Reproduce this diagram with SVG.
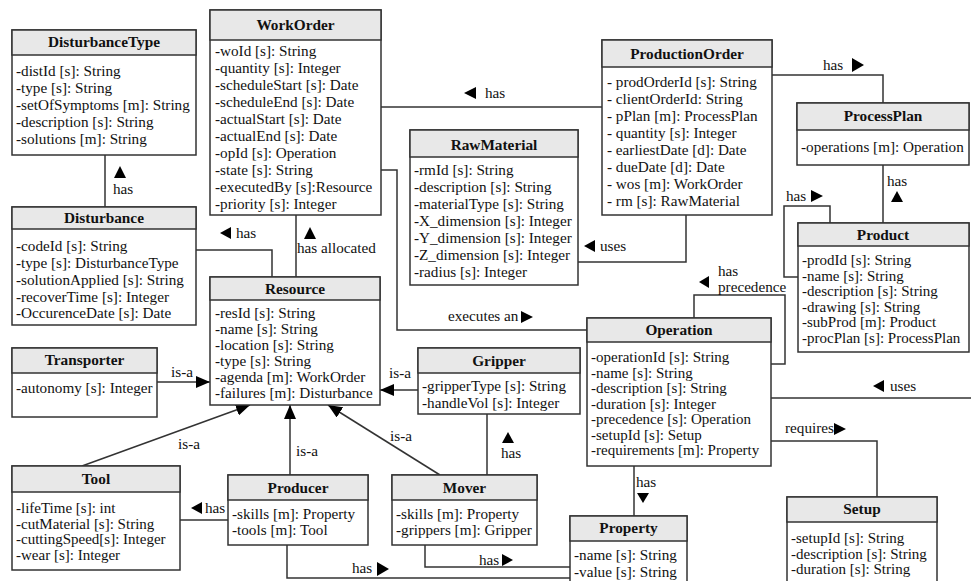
<svg xmlns="http://www.w3.org/2000/svg" width="971" height="581" viewBox="0 0 971 581">
<style>
.box{fill:#fff;stroke:#333;stroke-width:1.5}
.hdr{fill:#e8e8e8;stroke:#333;stroke-width:1.5}
.t{font-family:"Liberation Serif","Times New Roman",serif;font-size:15.2px;fill:#111}
.s{font-size:15px}
.title{font-family:"Liberation Serif","Times New Roman",serif;font-size:15.3px;font-weight:bold;text-anchor:middle;fill:#111}
.ln{stroke:#333;stroke-width:1.5;fill:none}
.tri{fill:#000}
</style>
<defs>
<marker id="isa" viewBox="0 0 14 12" refX="14" refY="6" markerWidth="14" markerHeight="12" markerUnits="userSpaceOnUse" orient="auto">
<path d="M0,0 L14,6 L0,12 Z" fill="#000"/>
</marker>
</defs>
<g id="connectors">
<path class="ln" d="M105,155 V207"/>
<polygon class="tri" points="114,178 126,178 120,166"/>
<text class="t" x="113" y="194">has</text>
<path class="ln" d="M196,250 H272 V277"/>
<polygon class="tri" points="220,233 231,227 231,239"/>
<text class="t" x="236" y="238">has</text>
<path class="ln" d="M296,215 V277"/>
<polygon class="tri" points="304,239 316,239 310,227"/>
<text class="t" x="297" y="253">has allocated</text>
<path class="ln" d="M381,107 H602"/>
<polygon class="tri" points="464,93 476,87 476,99"/>
<text class="t" x="485" y="98">has</text>
<path class="ln" d="M381,170 H397 V330 H587"/>
<text class="t" x="448" y="321">executes an</text>
<polygon class="tri" points="521,311 521,323 533,317"/>
<path class="ln" d="M578,262 H686 V215"/>
<polygon class="tri" points="584,246 595,240 595,252"/>
<text class="t" x="600" y="251">uses</text>
<path class="ln" d="M772,75 H883 V103"/>
<text class="t" x="823" y="70">has</text>
<polygon class="tri" points="852,58 852,72 864,65"/>
<path class="ln" d="M883,165 V223"/>
<text class="t" x="887" y="186">has</text>
<polygon class="tri" points="891,202 903,202 897,191"/>
<path class="ln" d="M830,223 V206 H784 V277 H798"/>
<text class="t" x="786" y="201">has</text>
<polygon class="tri" points="811,190 811,202 823,196"/>
<path class="ln" d="M157,382 H210" marker-end="url(#isa)"/>
<text class="t" x="171" y="377">is-a</text>
<path class="ln" d="M418,390 H380" marker-end="url(#isa)"/>
<text class="t" x="389" y="378">is-a</text>
<path class="ln" d="M82,466 L250,405" marker-end="url(#isa)"/>
<text class="t" x="178" y="449">is-a</text>
<path class="ln" d="M290,475 V405" marker-end="url(#isa)"/>
<text class="t" x="296" y="456">is-a</text>
<path class="ln" d="M440,475 L328,405" marker-end="url(#isa)"/>
<text class="t" x="390" y="441">is-a</text>
<path class="ln" d="M487,475 V414"/>
<polygon class="tri" points="502,443 514,443 508,432"/>
<text class="t" x="501" y="458">has</text>
<path class="ln" d="M228,520 H180"/>
<polygon class="tri" points="191,508 202,502 202,514"/>
<text class="t" x="205" y="513">has</text>
<path class="ln" d="M287,545 V578 H570"/>
<text class="t" x="352" y="573">has</text>
<polygon class="tri" points="377,562 377,576 389,569"/>
<path class="ln" d="M425,545 V567 H570"/>
<text class="t" x="479" y="565">has</text>
<polygon class="tri" points="502,554 502,566 513,560"/>
<path class="ln" d="M694,318 V295 H785 V364 H771"/>
<polygon class="tri" points="699,282 709,276 709,288"/>
<text class="t" x="718" y="276">has</text>
<text class="t" x="718" y="292">precedence</text>
<path class="ln" d="M771,398 H971"/>
<polygon class="tri" points="873,386 884,380 884,392"/>
<text class="t" x="890" y="391">uses</text>
<path class="ln" d="M771,441 H877 V497"/>
<text class="t" x="785" y="433">requires</text>
<polygon class="tri" points="834,423 834,435 846,429"/>
<path class="ln" d="M634,466 V516"/>
<text class="t" x="636" y="487">has</text>
<polygon class="tri" points="637,493 649,493 643,503"/>
</g>
<g id="DisturbanceType">
<rect class="box" x="12" y="30" width="184" height="125"/>
<rect class="hdr" x="12" y="30" width="184" height="25"/>
<text class="title" x="104" y="47">DisturbanceType</text>
<text class="t"><tspan x="16" y="76">-distId [s]: String</tspan><tspan x="16" y="93">-type [s]: String</tspan><tspan x="16" y="110">-setOfSymptoms [m]: String</tspan><tspan x="16" y="127">-description [s]: String</tspan><tspan x="16" y="144">-solutions [m]: String</tspan></text>
</g>
<g id="Disturbance">
<rect class="box" x="12" y="207" width="184" height="118"/>
<rect class="hdr" x="12" y="207" width="184" height="22"/>
<text class="title" x="104" y="223">Disturbance</text>
<text class="t"><tspan x="16" y="251">-codeId [s]: String</tspan><tspan x="16" y="268">-type [s]: DisturbanceType</tspan><tspan x="16" y="285">-solutionApplied [s]: String</tspan><tspan x="16" y="302">-recoverTime [s]: Integer</tspan><tspan x="16" y="318">-OccurenceDate [s]: Date</tspan></text>
</g>
<g id="WorkOrder">
<rect class="box" x="210" y="10" width="171" height="205"/>
<rect class="hdr" x="210" y="10" width="171" height="30"/>
<text class="title" x="295.5" y="30">WorkOrder</text>
<text class="t"><tspan x="215" y="56">-woId [s]: String</tspan><tspan x="215" y="73">-quantity [s]: Integer</tspan><tspan x="215" y="90">-scheduleStart [s]: Date</tspan><tspan x="215" y="107">-scheduleEnd [s]: Date</tspan><tspan x="215" y="124">-actualStart [s]: Date</tspan><tspan x="215" y="141">-actualEnd [s]: Date</tspan><tspan x="215" y="158">-opId [s]: Operation</tspan><tspan x="215" y="175">-state [s]: String</tspan><tspan x="215" y="192">-executedBy [s]:Resource</tspan><tspan x="215" y="209">-priority [s]: Integer</tspan></text>
</g>
<g id="RawMaterial">
<rect class="box" x="410" y="130" width="168" height="155"/>
<rect class="hdr" x="410" y="130" width="168" height="27"/>
<text class="title" x="494" y="150">RawMaterial</text>
<text class="t"><tspan x="414" y="175">-rmId [s]: String</tspan><tspan x="414" y="192">-description [s]: String</tspan><tspan x="414" y="209">-materialType [s]: String</tspan><tspan x="414" y="226">-X_dimension [s]: Integer</tspan><tspan x="414" y="243">-Y_dimension [s]: Integer</tspan><tspan x="414" y="260">-Z_dimension [s]: Integer</tspan><tspan x="414" y="277">-radius [s]: Integer</tspan></text>
</g>
<g id="ProductionOrder">
<rect class="box" x="602" y="40" width="170" height="175"/>
<rect class="hdr" x="602" y="40" width="170" height="27"/>
<text class="title" x="687" y="59">ProductionOrder</text>
<text class="t"><tspan x="607" y="87">- prodOrderId [s]: String</tspan><tspan x="607" y="104">- clientOrderId: String</tspan><tspan x="607" y="121">- pPlan [m]: ProcessPlan</tspan><tspan x="607" y="138">- quantity [s]: Integer</tspan><tspan x="607" y="155">- earliestDate [d]: Date</tspan><tspan x="607" y="172">- dueDate [d]: Date</tspan><tspan x="607" y="189">- wos [m]: WorkOrder</tspan><tspan x="607" y="206">- rm [s]: RawMaterial</tspan></text>
</g>
<g id="ProcessPlan">
<rect class="box" x="797" y="103" width="172" height="62"/>
<rect class="hdr" x="797" y="103" width="172" height="27"/>
<text class="title" x="883" y="121">ProcessPlan</text>
<text class="t"><tspan x="801" y="152">-operations [m]: Operation</tspan></text>
</g>
<g id="Product">
<rect class="box" x="798" y="223" width="171" height="129"/>
<rect class="hdr" x="798" y="223" width="171" height="23"/>
<text class="title" x="883" y="240">Product</text>
<text class="t s"><tspan x="802" y="265">-prodId [s]: String</tspan><tspan x="802" y="280.5">-name [s]: String</tspan><tspan x="802" y="296">-description [s]: String</tspan><tspan x="802" y="311.5">-drawing [s]: String</tspan><tspan x="802" y="327">-subProd [m]: Product</tspan><tspan x="802" y="342.5">-procPlan [s]: ProcessPlan</tspan></text>
</g>
<g id="Resource">
<rect class="box" x="210" y="277" width="170" height="128"/>
<rect class="hdr" x="210" y="277" width="170" height="23"/>
<text class="title" x="295" y="294">Resource</text>
<text class="t"><tspan x="215" y="318">-resId [s]: String</tspan><tspan x="215" y="334">-name [s]: String</tspan><tspan x="215" y="350">-location [s]: String</tspan><tspan x="215" y="366">-type [s]: String</tspan><tspan x="215" y="382">-agenda [m]: WorkOrder</tspan><tspan x="215" y="398">-failures [m]: Disturbance</tspan></text>
</g>
<g id="Transporter">
<rect class="box" x="12" y="348" width="145" height="69"/>
<rect class="hdr" x="12" y="348" width="145" height="25"/>
<text class="title" x="84.5" y="365">Transporter</text>
<text class="t"><tspan x="16" y="393">-autonomy [s]: Integer</tspan></text>
</g>
<g id="Gripper">
<rect class="box" x="418" y="348" width="162" height="66"/>
<rect class="hdr" x="418" y="348" width="162" height="25"/>
<text class="title" x="499" y="366">Gripper</text>
<text class="t"><tspan x="422" y="391">-gripperType [s]: String</tspan><tspan x="422" y="408">-handleVol [s]: Integer</tspan></text>
</g>
<g id="Tool">
<rect class="box" x="12" y="466" width="168" height="104"/>
<rect class="hdr" x="12" y="466" width="168" height="26"/>
<text class="title" x="96" y="484">Tool</text>
<text class="t s"><tspan x="16" y="513">-lifeTime [s]: int</tspan><tspan x="16" y="528.5">-cutMaterial [s]: String</tspan><tspan x="16" y="544">-cuttingSpeed[s]: Integer</tspan><tspan x="16" y="559.5">-wear [s]: Integer</tspan></text>
</g>
<g id="Producer">
<rect class="box" x="228" y="475" width="140" height="70"/>
<rect class="hdr" x="228" y="475" width="140" height="25"/>
<text class="title" x="298" y="493">Producer</text>
<text class="t"><tspan x="232" y="519">-skills [m]: Property</tspan><tspan x="232" y="535">-tools [m]: Tool</tspan></text>
</g>
<g id="Mover">
<rect class="box" x="392" y="475" width="145" height="70"/>
<rect class="hdr" x="392" y="475" width="145" height="25"/>
<text class="title" x="464.5" y="493">Mover</text>
<text class="t"><tspan x="396" y="519">-skills [m]: Property</tspan><tspan x="396" y="535">-grippers [m]: Gripper</tspan></text>
</g>
<g id="Property">
<rect class="box" x="570" y="516" width="117" height="72"/>
<rect class="hdr" x="570" y="516" width="117" height="25"/>
<text class="title" x="628.5" y="533">Property</text>
<text class="t"><tspan x="574" y="560">-name [s]: String</tspan><tspan x="574" y="577">-value [s]: String</tspan></text>
</g>
<g id="Operation">
<rect class="box" x="587" y="318" width="184" height="148"/>
<rect class="hdr" x="587" y="318" width="184" height="24"/>
<text class="title" x="679" y="335">Operation</text>
<text class="t s"><tspan x="591" y="362">-operationId [s]: String</tspan><tspan x="591" y="377.5">-name [s]: String</tspan><tspan x="591" y="393">-description [s]: String</tspan><tspan x="591" y="408.5">-duration [s]: Integer</tspan><tspan x="591" y="424">-precedence [s]: Operation</tspan><tspan x="591" y="439.5">-setupId [s]: Setup</tspan><tspan x="591" y="455">-requirements [m]: Property</tspan></text>
</g>
<g id="Setup">
<rect class="box" x="787" y="497" width="150" height="90"/>
<rect class="hdr" x="787" y="497" width="150" height="25"/>
<text class="title" x="862" y="514">Setup</text>
<text class="t s"><tspan x="791" y="543">-setupId [s]: String</tspan><tspan x="791" y="558.5">-description [s]: String</tspan><tspan x="791" y="574">-duration [s]: String</tspan></text>
</g>
</svg>
